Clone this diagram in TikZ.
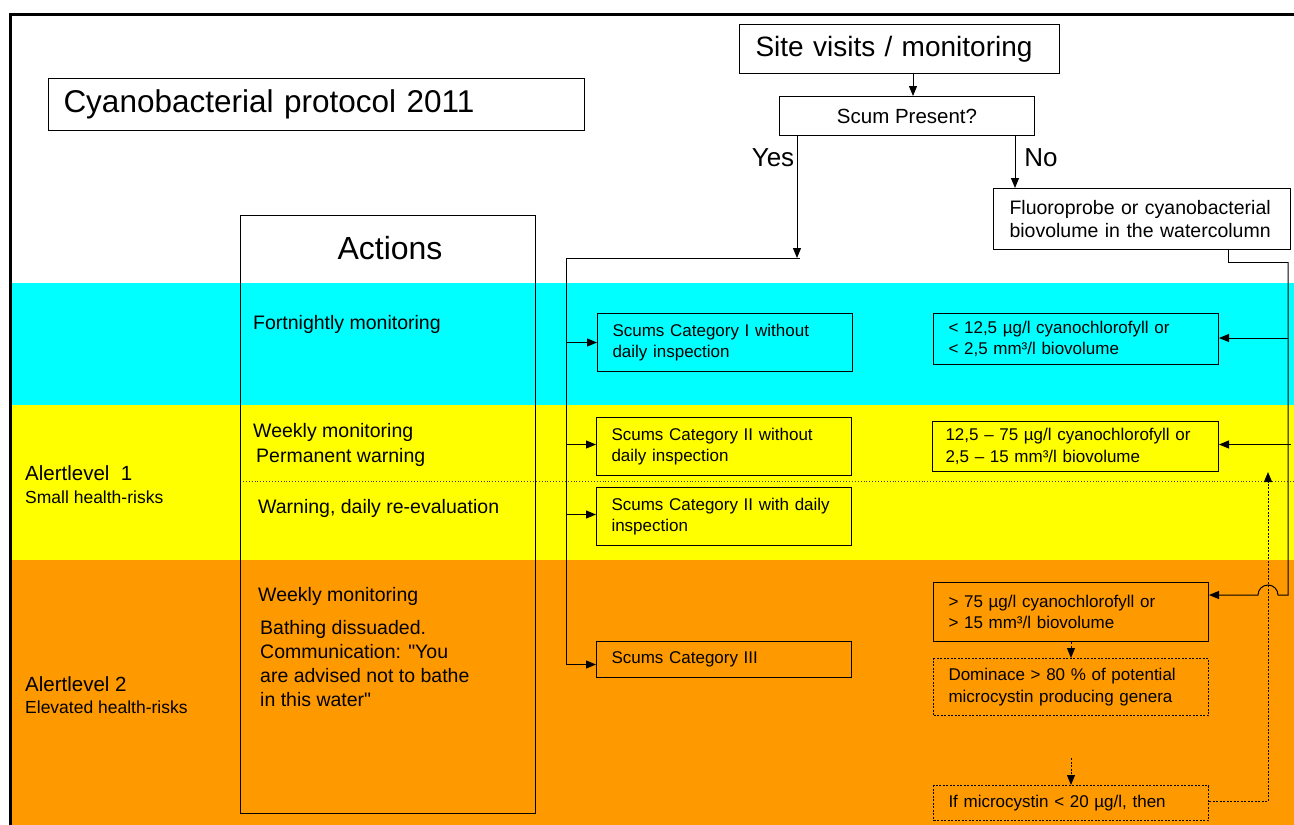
\documentclass[tikz,border=0pt]{standalone}
\usepackage{fontspec}
\setmainfont{Liberation Sans}
\usetikzlibrary{arrows.meta}
\definecolor{bandcyan}{RGB}{0,255,255}
\definecolor{bandyellow}{RGB}{255,255,0}
\definecolor{bandorange}{RGB}{255,153,0}
\newcommand\fsz[2]{\fontsize{#1}{#2}\selectfont}
% straight double quote, taken as a glyph so no text mapping curls it
\newcommand\dq{\XeTeXglyph\XeTeXcharglyph"22\relax}
\begin{document}
\begin{tikzpicture}[x=1pt,y=-1pt,
  lbox/.style={draw, line width=1pt, anchor=north west, align=left,
               inner xsep=15pt, inner ysep=0pt, font=\fsz{17}{21.5}},
  cbox/.style={draw, line width=1pt, anchor=north west, align=center,
               inner sep=0pt},
  dbox/.style={lbox, dash pattern=on 2pt off 1.5pt},
  lbl/.style={anchor=west, inner sep=0pt, align=left},
  actfont/.style={font=\fsz{19.5}{24}},
  arr/.style={line width=1pt, -{Triangle[length=10pt,width=8pt]}},
  darr/.style={arr, dash pattern=on 2pt off 1.5pt},
  conn/.style={line width=1pt}]
\useasboundingbox (0,0) rectangle (1294,825);

% alert level bands
\fill[bandcyan]   (12,283) rectangle (1294,405);
\fill[bandyellow] (12,405) rectangle (1294,560);
\fill[bandorange] (12,560) rectangle (1294,825);
\draw[black!75, line width=0.9pt, dotted] (240,481) -- (1294,481);

% outer frame
\draw[line width=3pt] (10,825) -- (10,14) -- (1294,14);

% title
\node[lbox, text width=506pt, minimum height=52pt, font=\fsz{31.5}{34}] (title) at (48,78)
  {Cyanobacterial protocol 2011};

% actions column
\node[draw, line width=1pt, anchor=north west, minimum width=295pt, minimum height=598pt,
      inner sep=0pt] (actions) at (240,215) {};
\node[font=\fsz{32}{34}] (actlbl) at (390,248) {Actions};
\node[lbl, actfont] (a1) at (253,324) {Fortnightly monitoring};
\node[lbl, actfont] (a2) at (253,432) {Weekly monitoring};
\node[lbl, actfont] (a3) at (256,457) {Permanent warning};
\node[lbl, actfont] (a4) at (258,508) {Warning, daily re-evaluation};
\node[lbl, actfont] (a5) at (258,596) {Weekly monitoring};
\node[lbl, actfont] (a6) at (260,664)
  {Bathing dissuaded.\\Communication: \dq You\\are advised not to bathe\\in this water\dq};

% alert level labels
\node[lbl, font=\fsz{20.5}{24}] (al1) at (25,473) {Alertlevel\ \ 1};
\node[lbl, font=\fsz{17.5}{20}] (al1s) at (25,497) {Small health-risks};
\node[lbl, font=\fsz{20.5}{24}] (al2) at (25,684) {Alertlevel 2};
\node[lbl, font=\fsz{17.5}{20}] (al2s) at (25,707) {Elevated health-risks};

% decision part
\node[lbox, inner xsep=16pt, text width=288pt, minimum height=49pt, font=\fsz{28}{32}] (site) at (739,24)
  {Site visits / monitoring};
\node[cbox, minimum width=255pt, minimum height=39pt, font=\fsz{20.5}{24}] (scum) at (779,96)
  {Scum Present?};
\node[font=\fsz{26}{30}] (yes) at (773,158) {Yes};
\node[font=\fsz{26}{30}] (no) at (1041,158) {No};
\node[lbox, inner xsep=16pt, text width=265pt, minimum height=61pt, font=\fsz{19.5}{23}] (fluoro) at (993,188)
  {Fluoroprobe or cyanobacterial\\biovolume in the watercolumn};

% scum categories
\node[lbox, text width=225pt, minimum height=58pt] (cat1) at (597,313)
  {Scums Category I without\\daily inspection};
\node[lbox, text width=225pt, minimum height=58pt] (cat2a) at (596,417)
  {Scums Category II without\\daily inspection};
\node[lbox, text width=225pt, minimum height=58pt] (cat2b) at (596,487)
  {Scums Category II with daily\\inspection};
\node[lbox, text width=225pt, minimum height=36pt] (cat3) at (596,641)
  {Scums Category III};

% water column classes
\node[lbox, text width=255pt, minimum height=51pt] (wa) at (933,313)
  {< 12,5 µg/l cyanochlorofyll or\\< 2,5 mm³/l biovolume};
\node[lbox, inner xsep=13pt, text width=260pt, minimum height=50pt] (wb) at (932,421)
  {12,5 -- 75 µg/l cyanochlorofyll or\\2,5 -- 15 mm³/l biovolume};
\node[lbox, text width=245pt, minimum height=59pt] (wc) at (933,582)
  {> 75 µg/l cyanochlorofyll or\\> 15 mm³/l biovolume};
\node[dbox, text width=245pt, minimum height=57pt] (wd) at (933,658)
  {Dominace > 80 \% of potential\\microcystin producing genera};
\node[dbox, text width=245pt, minimum height=35pt] (we) at (933,785)
  {If microcystin < 20 µg/l, then};

% entry points on the boxes
\coordinate (c1in) at (cat1.west);
\coordinate (c2ain) at ([yshift=2pt]cat2a.west);
\coordinate (c2bin) at ([yshift=2pt]cat2b.west);
\coordinate (c3in) at ([yshift=-5pt]cat3.west);
\coordinate (wain) at ([yshift=1pt]wa.east);
\coordinate (wbin) at ([yshift=2pt]wb.east);
\coordinate (weout) at ([yshift=2pt]we.east);

% connectors: top
\draw[arr] (site.south -| 913,0) -- (scum.north -| 913,0);
\coordinate (yj) at (797,258);
\coordinate (bus) at (566,258);
\draw[arr] (scum.south -| yj) -- (yj);
\draw[conn] ([xshift=3pt]yj) -- (bus) -- (bus |- c3in);
\draw[arr] (bus |- c1in) -- (c1in);
\draw[arr] (bus |- c2ain) -- (c2ain);
\draw[arr] (bus |- c2bin) -- (c2bin);
\draw[arr] (bus |- c3in) -- (c3in);
\draw[arr] (scum.south -| 1015,0) -- (fluoro.north -| 1015,0);

% connectors: water column branch
\coordinate (r1) at (1228,262);
\coordinate (rv) at (1288,262);
\coordinate (rv2) at (1291,262);
\coordinate (hopR) at (1278,595);
\draw[conn] (fluoro.south -| r1) -- (r1) -- (rv);
\draw[arr] (rv) -- (rv |- hopR) -- (hopR) arc[start angle=0, end angle=180, radius=10pt]
  -- (hopR -| wc.east);
\draw[arr] (rv |- wain) -- (wain);
\draw[arr] (rv2 |- wbin) -- (wbin);
\draw[darr] (wc.south) -- (wd.north);
\coordinate (dfree) at (1071,758);
\draw[darr] (dfree) -- (dfree |- we.north);
\coordinate (bup) at (1268,472);
\draw[darr] (weout) -| (bup);
\end{tikzpicture}
\end{document}
